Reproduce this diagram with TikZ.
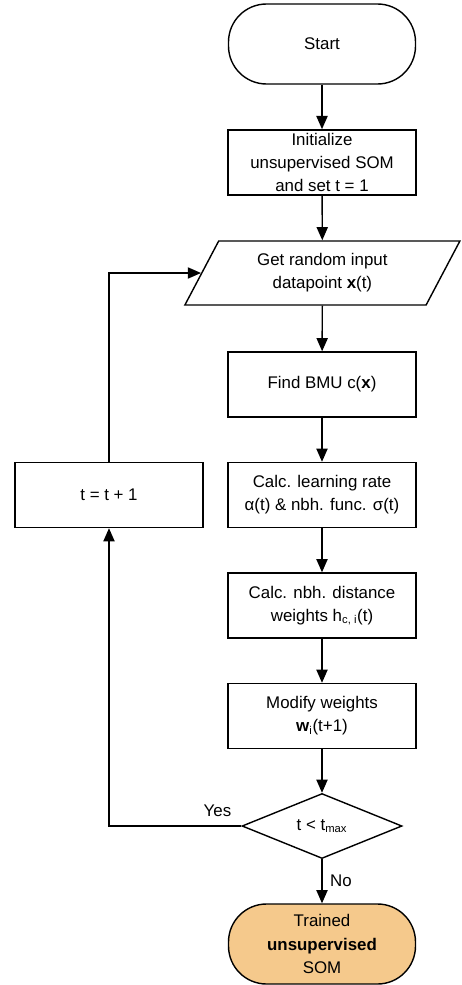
\documentclass[tikz,border=0pt]{standalone}
\usepackage{fontspec}
\setmainfont{Liberation Sans}
\usetikzlibrary{arrows.meta,shapes.geometric}
\definecolor{trainedfill}{RGB}{245,201,140}
\tikzset{
	terminal/.style={draw, line width=1pt, rectangle, rounded corners=0.95cm, minimum width=4.675cm, minimum height=2cm, align=center},
	process/.style={draw, line width=1pt, rectangle, minimum width=4.7cm, minimum height=1.625cm, align=center, inner sep=1pt},
	inputbox/.style={draw, line width=1pt, trapezium, trapezium left angle=51, trapezium right angle=129, trapezium stretches body, minimum width=6.875cm, minimum height=1.6cm, align=center, inner sep=1pt},
	decision/.style={draw, line width=1pt, diamond, aspect=2.46, minimum width=4cm, minimum height=1.625cm, inner sep=0pt},
	flow/.style={line width=1pt, -{Triangle[width=0.28cm,length=0.33cm]}}
}

\begin{document}
\begin{tikzpicture}[font=\fontsize{12}{16.5}\selectfont]
			%%%%% START %%%%%
			\useasboundingbox (0, 0) rectangle (11.55, -24.625);
			
			\node[terminal] (start) at (8.05, -1.1) {Start};
			\node[process] (init) at (8.05, -4.06) {Initialize\\unsupervised SOM\\and set t = 1};
			\node[inputbox] (input) at (8.06, -6.825) {Get random input\\datapoint \textbf{x}(t)};
			\node[process] (bmu) at (8.05, -9.6125) {Find BMU c(\textbf{x})};
			\node[process] (rate) at (8.05, -12.375) {Calc. learning rate\\α(t) \& nbh. func. σ(t)};
			\node[process] (incr) at (2.725, -12.375) {t = t + 1};
			\node[process] (dist) at (8.05, -15.1375) {Calc. nbh. distance\\weights h\textsubscript{c, i}(t)};
			\node[process] (modify) at (8.05, -17.9) {Modify weights\\\textbf{w}\textsubscript{i}(t+1)};
			\node[decision] (check) at (8.05, -20.65) {t < t\textsubscript{max}};
			\node[terminal, fill=trainedfill] (trained) at (8.05, -23.6) {Trained\\\textbf{unsupervised}\\SOM};
			
			\draw[flow] (start) -- (init);
			\draw[flow] (init) -- (input);
			\draw[flow] (input) -- (bmu);
			\draw[flow] (bmu) -- (rate);
			\draw[flow] (rate) -- (dist);
			\draw[flow] (dist) -- (modify);
			\draw[flow] (modify) -- (check);
			\draw[flow] (check) -- node[right, xshift=2pt] {No} (trained);
			
			\draw[flow] (check.west) -| node[pos=0.09, above, yshift=3pt] {Yes} (incr.south);
			\draw[flow] (incr.north) |- (input.west);
			%%%%% END %%%%%
		\end{tikzpicture}
\end{document}
